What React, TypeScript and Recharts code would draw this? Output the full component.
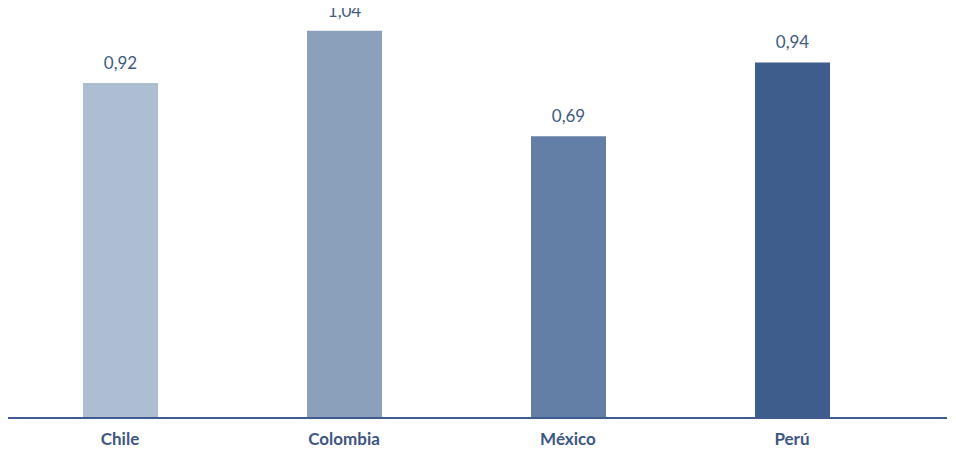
import React from "react"
import { BarChart, Bar, XAxis, YAxis, Cell, LabelList } from "recharts"

// Data
const countries = ["Chile", "Colombia", "México", "Perú"]
// bar lengths as drawn (same units as the labels)
const barValues = [0.9, 1.04, 0.757, 0.955]
const valueLabels = ["0,92", "1,04", "0,69", "0,94"]
const barColors = ["#adbed3", "#8aa0bb", "#637fa6", "#3e5d8d"]

const data = countries.map((name, i) => ({
  name,
  value: barValues[i],
  label: valueLabels[i],
}))

const textColor = "#3d5683"
const axisColor = "#3f5b92"

// value label sitting above the bar
const renderValue = (props: any) => {
  const { x, y, width, value } = props
  return (
    <text
      x={Number(x) + Number(width) / 2}
      y={Number(y) - 14}
      textAnchor="middle"
      fill="#415a80"
      fontSize={17}
      fontFamily="Lato"
    >
      {value}
    </text>
  )
}

const App: React.FC = () => {
  return (
    <div style={{ margin: "-8px 0 0 -2px", width: 950, height: 456 }}>
      <BarChart
        width={950}
        height={456}
        data={data}
        margin={{ top: 1, right: 9, left: 0, bottom: 0 }}
        barCategoryGap={0}
      >
        <XAxis
          dataKey="name"
          padding={{ left: 2, right: 43 }}
          height={38}
          tickLine={false}
          tickSize={0}
          tickMargin={15}
          axisLine={{ stroke: axisColor, strokeWidth: 2 }}
          tick={{ fill: textColor, fontSize: 17, fontWeight: 700, fontFamily: "Lato" }}
        />
        <YAxis hide domain={[0, 1.12]} />
        <Bar dataKey="value" barSize={75} isAnimationActive={false}>
          {data.map((d, i) => (
            <Cell key={d.name} fill={barColors[i]} />
          ))}
          <LabelList dataKey="label" content={renderValue} />
        </Bar>
      </BarChart>
    </div>
  )
}

export default App
